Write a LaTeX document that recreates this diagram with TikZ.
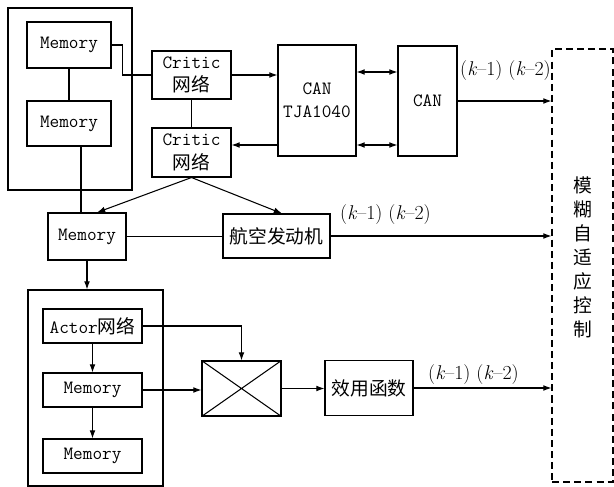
\documentclass[tikz,border=0pt]{standalone}
\usepackage{fontspec}
\newfontfamily\cjk{Noto Sans CJK SC}
\usetikzlibrary{positioning,arrows.meta}

\begin{document}
\begin{tikzpicture}[x=0.03cm,y=-0.03cm,
  font=\fontsize{16pt}{20pt}\selectfont\ttfamily,>={Latex[length=7pt,width=5pt]},
  blk/.style={draw,line width=0.9pt,inner sep=0pt,align=center},
  grp/.style={draw,line width=0.9pt,inner sep=0pt},
  ln/.style={line width=0.9pt},
  arr/.style={->,line width=0.9pt},
  dbl/.style={<->,line width=0.9pt},
  lab/.style={font=\fontsize{17pt}{20pt}\selectfont\rmfamily,anchor=base west,inner sep=0pt},
]
  \useasboundingbox (0,0) rectangle (614,487);

  % upper memory group
  \node[grp,minimum width=3.72cm,minimum height=5.46cm] (g1) at (70,99) {};
  \node[blk,minimum width=2.52cm,minimum height=1.38cm] (mem1) at (69,45) {Memory};
  \node[blk,minimum width=2.52cm,minimum height=1.35cm] (mem2) at (69,123.5) {Memory};

  \node[blk,minimum width=2.37cm,minimum height=1.44cm] (critic1) at (191.5,75) {Critic\\{\cjk 网络}};
  \node[blk,minimum width=2.37cm,minimum height=1.47cm] (critic2) at (191.5,152.5) {Critic\\{\cjk 网络}};
  \node[blk,minimum width=2.34cm,minimum height=3.33cm] (tja) at (317,100.5) {CAN\\TJA1040};
  \node[blk,minimum width=1.77cm,minimum height=3.30cm] (can) at (427.5,101) {CAN};

  % fuzzy controller
  \node[draw,line width=0.9pt,dash pattern=on 6pt off 3.5pt,inner sep=0pt,
        minimum width=1.83cm,minimum height=12.99cm] (fuzzy) at (582.5,265.5) {};
  \node[font=\fontsize{16pt}{20.5pt}\selectfont\cjk,align=center] (fuzzytxt) at (583,257.5)
    {模\\糊\\自\\适\\应\\控\\制};

  \node[blk,minimum width=2.34cm,minimum height=1.41cm] (mem3) at (87,236.5) {Memory};
  \node[blk,minimum width=3.21cm,minimum height=1.32cm,font=\fontsize{16pt}{20pt}\selectfont\cjk] (engine) at (276.5,236) {航空发动机};

  % actor group
  \node[grp,minimum width=4.05cm,minimum height=5.88cm] (g2) at (95.5,388) {};
  \node[blk,minimum width=2.97cm,minimum height=1.02cm] (actor) at (92.5,326) {Actor{\cjk 网络}};
  \node[blk,minimum width=2.97cm,minimum height=1.02cm] (mem4) at (92.5,390) {Memory};
  \node[blk,minimum width=2.97cm,minimum height=1.02cm] (mem5) at (92.5,456) {Memory};

  \node[blk,minimum width=2.37cm,minimum height=1.65cm] (cross) at (241.5,388.5) {};
  \node[blk,minimum width=2.64cm,minimum height=1.65cm,font=\fontsize{16pt}{20pt}\selectfont\cjk] (utility) at (369,388) {效用函数};

  % connections
  \draw[ln] (mem1) -- (mem2);
  \draw[ln] (mem1.east) -- ++(11,0) |- (critic1.west);
  \draw[ln] (critic1) -- (critic2);
  \draw[arr] (critic1.east) -- (critic1.east -| tja.west);
  \draw[arr] (tja.west |- 0,145) -- (critic2.east |- 0,145);
  \draw[dbl] (tja.east |- 0,72) -- (can.west |- 0,72);
  \draw[dbl] (tja.east |- 0,145) -- (can.west |- 0,145);
  \draw[arr] (can.east) -- (can.east -| fuzzy.west);
  \node[lab] (lab1) at (460,76) {(\textit{k}--1) (\textit{k}--2)};

  \draw[arr] (critic2.south) -- (mem3.north -| 97,0);
  \draw[arr] (critic2.south) -- (engine.north -| 282,0);
  \draw[ln] (mem2.south -| 81,0) -- (mem3.north -| 81,0);
  \draw[ln] (mem3.east) -- (mem3.east -| engine.west);
  \draw[arr] (engine.east) -- (engine.east -| fuzzy.west);
  \node[lab] (lab2) at (340,220) {(\textit{k}--1) (\textit{k}--2)};

  \draw[arr] (mem3.south) -- (mem3.south |- g2.north);
  \draw[arr] (actor) -- (mem4);
  \draw[arr] (mem4) -- (mem5);
  \draw[arr] (actor.east) -| (cross.north);
  \draw[arr] (mem4.east) -- (mem4.east -| cross.west);
  \draw[ln] (cross.north west) -- (cross.south east) (cross.north east) -- (cross.south west);
  \draw[arr] (cross.east) -- (cross.east -| utility.west);
  \draw[arr] (utility.east) -- (utility.east -| fuzzy.west);
  \node[lab] (lab3) at (428,379) {(\textit{k}--1) (\textit{k}--2)};
\end{tikzpicture}
\end{document}
